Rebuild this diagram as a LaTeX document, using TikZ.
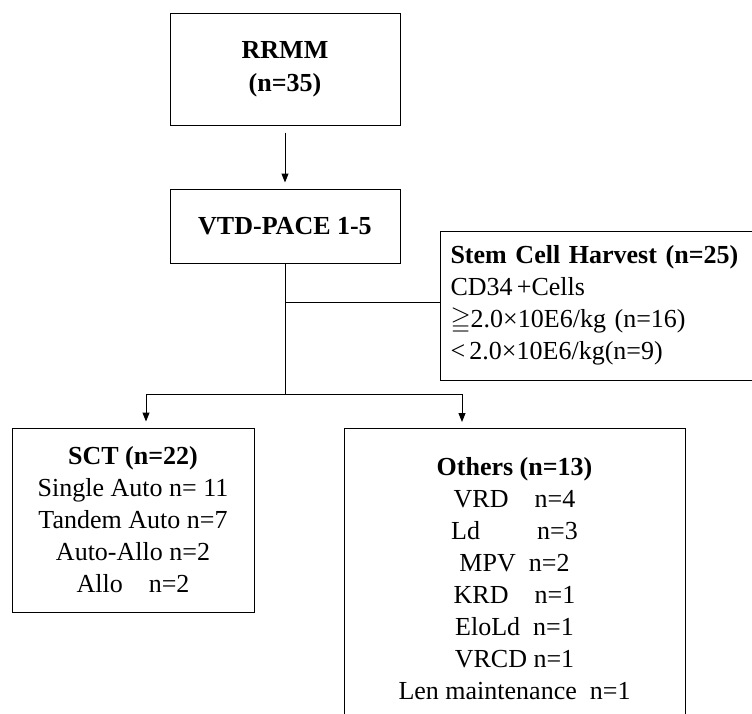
\documentclass[tikz,border=0pt]{standalone}
\usepackage{amssymb}
\usepackage{fontspec}
\setmainfont{Liberation Serif}
\usetikzlibrary{arrows.meta,calc}

\begin{document}
\begin{tikzpicture}[x=1pt, y=-1pt, line width=1pt, >={Triangle[length=9pt,width=7pt]},
  box/.style={draw, inner sep=0pt, align=center, font=\fontsize{26}{32}\selectfont},
  topbox/.style={box, minimum width=230pt, font=\bfseries\fontsize{26}{33}\selectfont}]
  \clip (0,0) rectangle (752,713);
  % top of the flow
  \node[topbox, minimum height=112pt] (rrmm) at (285,69) {RRMM\\(n=35)};
  \node[topbox, minimum height=74pt] (vtd) at (285,226) {VTD-PACE 1-5};
  % harvest box, runs off the right edge
  \node[box, anchor=west, align=left, text width=296pt, inner xsep=10pt, minimum height=149pt] (harvest) at (440,305.5)
    {\textbf{Stem Cell Harvest (n=25)}\\CD34\,+Cells\\$\geqq$2.0×10E6/kg (n=16)\\<\,2.0×10E6/kg(n=9)};
  % the two arms
  \node[box, minimum width=242pt, minimum height=184pt] (sct) at (133,520)
    {\textbf{SCT (n=22)}\\Single Auto n= 11\\Tandem Auto n=7\\Auto-Allo n=2\\Allo\quad n=2};
  \node[box, anchor=north, minimum width=341pt, minimum height=300pt] (others) at (514.5,428)
    {\textbf{Others (n=13)}\\VRD\quad n=4\\Ld\hspace{2.2em}n=3\\MPV\enspace n=2\\KRD\quad n=1\\EloLd\enspace n=1\\VRCD n=1\\Len maintenance\enspace n=1};
  \coordinate (split) at (285,394);
  \coordinate (tee) at (285,302);
  \draw[->, shorten <=7pt, shorten >=6pt] (rrmm) -- (vtd);
  \draw (vtd.south) -- (split);
  \draw (tee) -- (tee -| harvest.west);
  \draw[->, shorten >=6pt] (split) -| ([xshift=13pt]sct.north);
  \draw[->, shorten >=6pt] (split) -| ([xshift=-52.5pt]others.north);
\end{tikzpicture}
\end{document}
